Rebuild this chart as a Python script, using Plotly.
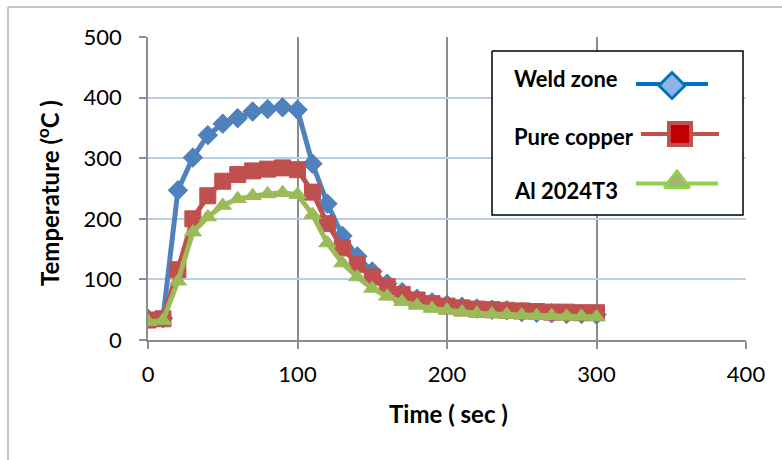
import plotly.graph_objects as go

# ---------------- data ----------------
time_s = [0, 10, 20, 30, 40, 50, 60, 70, 80, 90, 100, 110, 120, 130, 140, 150,
          160, 170, 180, 190, 200, 210, 220, 230, 240, 250, 260, 270, 280, 290, 300]
weld_zone = [35, 36, 247, 301, 338, 357, 366, 377, 381, 384, 380, 291, 225, 172, 138, 113,
             93, 79, 68, 62, 58, 55, 52, 50, 49, 46, 45, 44, 43, 43, 42]
pure_copper = [33, 35, 116, 200, 238, 262, 273, 279, 282, 284, 281, 244, 192, 152, 125, 104,
               88, 75, 66, 60, 56, 53, 51, 50, 49, 48, 47, 46, 46, 45, 45]
al_2024t3 = [30, 32, 97, 178, 203, 222, 233, 238, 241, 243, 240, 207, 160, 127, 104, 85,
             72, 63, 57, 52, 49, 46, 44, 43, 42, 41, 40, 40, 39, 39, 38]

series_names = ["Weld zone", "Pure copper", "Al 2024T3"]
x_ticks = [0, 100, 200, 300, 400]
y_ticks = [0, 100, 200, 300, 400, 500]

# ---------------- layout constants (pixels) ----------------
W, H = 782, 460
L, R, T, B = 148, 36, 37, 120
PW, PH = W - L - R, H - T - B
FONT = "Lato"


def fx(px):
    return (px - L) / PW


def fy(py):
    return (H - B - py) / PH


fig = go.Figure()

fig.add_trace(go.Scatter(x=time_s, y=weld_zone, name=series_names[0], mode="lines+markers",
                         line=dict(color="#4F81BD", width=5),
                         marker=dict(symbol="diamond", size=15, color="#4F81BD",
                                     line=dict(color="#4F81BD", width=1)),
                         showlegend=False))
fig.add_trace(go.Scatter(x=time_s, y=pure_copper, name=series_names[1], mode="lines+markers",
                         line=dict(color="#C0504D", width=5),
                         marker=dict(symbol="square", size=16, color="#C0504D",
                                     line=dict(color="#C0504D", width=1)),
                         showlegend=False))
fig.add_trace(go.Scatter(x=time_s, y=al_2024t3, name=series_names[2], mode="lines+markers",
                         line=dict(color="#9BBB59", width=5),
                         marker=dict(symbol="triangle-up", size=15, color="#9BBB59",
                                     line=dict(color="#9BBB59", width=1)),
                         showlegend=False))

# ---------------- custom legend on an overlay axis (paper-like units) ----------------
bx0, by0, bx1, by1 = fx(492), fy(51), fx(743), fy(215)
fig.add_trace(go.Scatter(x=[bx0, bx1, bx1, bx0, bx0], y=[by0, by0, by1, by1, by0],
                         mode="lines", fill="toself", fillcolor="white",
                         line=dict(color="black", width=1.5), xaxis="x2", yaxis="y2",
                         hoverinfo="skip", showlegend=False))

legend_rows = [
    dict(y=84, lx=(636, 708), my=85.5, color="#0070C0", sym="diamond", size=20,
         fill="#8DB4E2", lw=3),
    dict(y=134, lx=(641, 719), my=134, color="#C0504D", sym="square", size=22,
         fill="#C00000", lw=4),
    dict(y=183.5, lx=(636, 718), my=182, color="#92D050", sym="triangle-up", size=22,
         fill="#A5B37A", lw=3),
]
for row in legend_rows:
    fig.add_trace(go.Scatter(x=[fx(row["lx"][0]), fx(row["lx"][1])], y=[fy(row["y"]), fy(row["y"])],
                             mode="lines", line=dict(color=row["color"], width=4),
                             xaxis="x2", yaxis="y2", hoverinfo="skip", showlegend=False))
    fig.add_trace(go.Scatter(x=[fx((row["lx"][0] + row["lx"][1]) / 2)], y=[fy(row["my"])],
                             mode="markers",
                             marker=dict(symbol=row["sym"], size=row["size"], color=row["fill"],
                                         line=dict(color=row["color"], width=row["lw"])),
                             xaxis="x2", yaxis="y2", hoverinfo="skip", showlegend=False))

annotations = []
for name, ty in zip(series_names, [78, 136, 190]):
    annotations.append(dict(text="<b>%s</b>" % name, x=fx(512), y=fy(ty), xref="paper", yref="paper",
                            xanchor="left", yanchor="middle", showarrow=False,
                            font=dict(family=FONT, size=22, color="black")))

annotations.append(dict(text="<b>Time ( sec )</b>", x=fx(448), y=fy(413), xref="paper", yref="paper",
                        xanchor="center", yanchor="middle", showarrow=False,
                        font=dict(family=FONT, size=24, color="black")))
annotations.append(dict(text="<b>Temperature (<sup>o</sup>C )</b>", x=fx(48), y=fy(193),
                        xref="paper", yref="paper", xanchor="center", yanchor="middle",
                        textangle=-90, showarrow=False,
                        font=dict(family=FONT, size=24, color="black")))

fig.update_layout(
    width=W, height=H,
    margin=dict(l=L, r=R, t=T, b=B, pad=0),
    paper_bgcolor="white", plot_bgcolor="white",
    font=dict(family=FONT, size=22, color="black"),
    xaxis=dict(range=[0, 400], tickvals=x_ticks, ticktext=[str(v) for v in x_ticks],
               showgrid=True, gridcolor="#8C8C8C", gridwidth=1.5,
               showline=True, linecolor="#8C8C8C", linewidth=1.5,
               ticks="outside", ticklen=7, tickcolor="#8C8C8C", tickwidth=1.5,
               zeroline=False, ticklabelstandoff=7, fixedrange=True),
    yaxis=dict(range=[0, 500], tickvals=y_ticks, ticktext=[str(v) for v in y_ticks],
               showgrid=True, gridcolor="#B9CDE5", gridwidth=1.5,
               showline=True, linecolor="#8C8C8C", linewidth=1.5,
               ticks="outside", ticklen=7, tickcolor="#8C8C8C", tickwidth=1.5,
               zeroline=False, ticklabelstandoff=13, fixedrange=True),
    xaxis2=dict(overlaying="x", anchor="y2", range=[0, 1], visible=False, fixedrange=True),
    yaxis2=dict(overlaying="y", anchor="x2", range=[0, 1], visible=False, fixedrange=True),
    annotations=annotations,
    shapes=[dict(type="rect", xref="paper", yref="paper", x0=fx(8), y0=fy(480), x1=fx(800), y1=fy(7),
                 line=dict(color="#8C8C8C", width=1), fillcolor="rgba(0,0,0,0)", layer="below")],
    showlegend=False,
)

fig.write_html("out.html", config={"displayModeBar": False},
               post_script="document.body.style.margin='0px';")
